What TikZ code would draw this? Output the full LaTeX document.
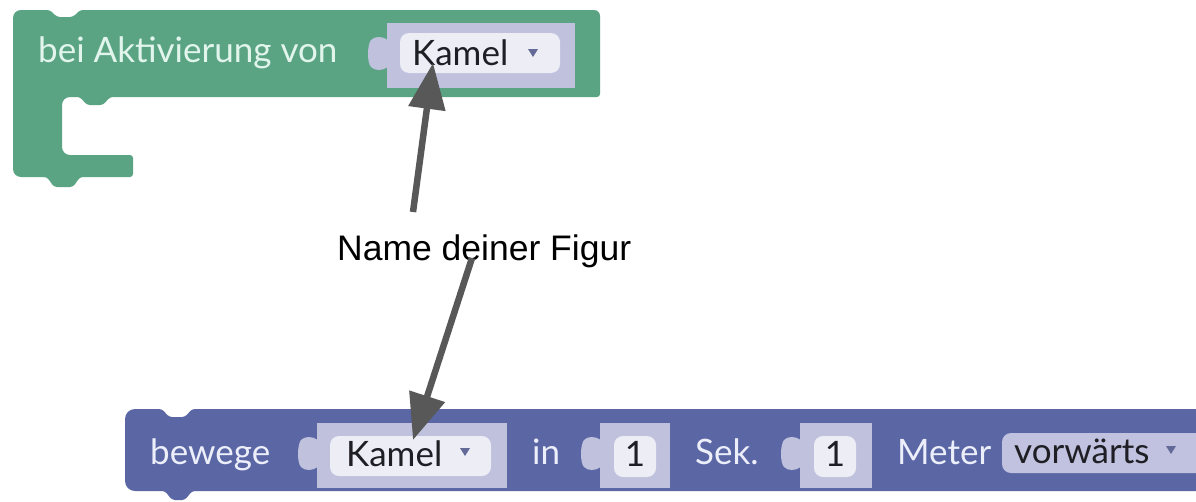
\documentclass[tikz,border=0pt]{standalone}
\usepackage{fontspec}
\setmainfont{Lato}
\newfontfamily\arialf{Liberation Sans}
\usetikzlibrary{arrows.meta}
\definecolor{greenblk}{RGB}{90,164,132}
\definecolor{blueblk}{RGB}{91,103,165}
\definecolor{slotcol}{RGB}{191,193,221}
\definecolor{pillcol}{RGB}{236,237,245}
\definecolor{dropcol}{RGB}{192,194,223}
\definecolor{arrgray}{RGB}{88,88,88}
\definecolor{gtxt}{RGB}{226,245,236}
\definecolor{btxt}{RGB}{236,239,250}
\definecolor{darktxt}{RGB}{30,30,36}
\definecolor{tricol}{RGB}{100,106,152}
\newcommand\slotat[3]{%
  \begin{scope}[shift={(#1,#2)}]
    \fill[slotcol] (0,0) rectangle (#3,65);
    \fill[slotcol] (1,17) .. controls (-5,13) and (-12,13) .. (-16,17)
      .. controls (-20,22) and (-20,40) .. (-16,44)
      .. controls (-12,48) and (-5,48) .. (1,44) -- cycle;
  \end{scope}}
\newcommand\dropat[2]{%
  \fill[tricol] (#1-5,#2-4) -- (#1+5,#2-4) -- (#1,#2+4) -- cycle;}
\tikzset{
  blkfont/.style={font=\fontsize{35}{40}\selectfont},
  blkg/.style={inner sep=0, anchor=base west, blkfont, text=gtxt},
  blkb/.style={inner sep=0, anchor=base west, blkfont, text=btxt},
  pilltxt/.style={inner sep=0, anchor=base west, blkfont, text=darktxt},
  numtxt/.style={inner sep=0, anchor=base, blkfont, text=darktxt},
  arr/.style={draw=arrgray, line width=6.5pt, -{Triangle[length=46pt,width=36pt]}}
}
\begin{document}
\begin{tikzpicture}[x=1pt,y=-1pt]
\useasboundingbox (0,0) rectangle (1196,501);
\clip (0,0) rectangle (1196,501);
\fill[white] (0,0) rectangle (1196,501);
% green event block
\fill[greenblk] (13,100) [rounded corners=8] -- (13,10) [rounded corners=3] -- (50,10) -- (57,17) -- (73,17) -- (80,10) [rounded corners=6] -- (600,10) [rounded corners=3] -- (600,97) -- (110,97) -- (103,105) -- (87,105) -- (80,97) [rounded corners=8] -- (62,97) -- (62,155) [rounded corners=3] -- (133,155) -- (133,177) -- (80,177) -- (73,187) -- (54,187) -- (47,177) [rounded corners=8] -- (13,177) -- cycle;
\slotat{387}{23}{188}
\fill[pillcol, rounded corners=9] (400,33) rectangle (560,73);
\node[blkg] (bei) at (38,62) {bei Aktivierung von};
\node[pilltxt] (kamel1) at (412,65) {Kamel};
\dropat{533}{53}
% blue move block
\fill[blueblk] (125,450) [rounded corners=10] -- (125,409) [rounded corners=3] -- (162,409) -- (169,417) -- (185,417) -- (192,409) -- (1210,409) -- (1210,491) -- (192,491) -- (185,500) -- (172,500) -- (165,491) [rounded corners=10] -- (125,491) -- cycle;
\slotat{317}{423}{190}
\slotat{600}{423}{70}
\slotat{800}{423}{72}
\fill[pillcol, rounded corners=9] (330,436) rectangle (491,476);
\fill[pillcol, rounded corners=9] (614,436) rectangle (656,477);
\fill[pillcol, rounded corners=9] (814,436) rectangle (856,477);
\fill[dropcol, rounded corners=9] (1002,433) rectangle (1215,473);
\node[blkb] (bewege) at (150,464) {bewege};
\node[pilltxt] (kamel2) at (346,466) {Kamel};
\dropat{465}{452}
\node[blkb] (in) at (532,464) {in};
\node[numtxt] (eins1) at (635,466) {1};
\node[blkb] (sek) at (695,464) {Sek.};
\node[numtxt] (eins2) at (835,466) {1};
\node[blkb] (meter) at (897,464) {Meter};
\node[pilltxt] (vorw) at (1014,463) {vorwärts};
\dropat{1171}{450}
% label and arrows
\node[inner sep=0, anchor=base west, font=\arialf\fontsize{35.5}{40}\selectfont, text=black] (lbl) at (337,260) {Name deiner Figur};
\coordinate (a1s) at (413,212);
\coordinate (a1e) at (433,63);
\coordinate (a2s) at (472,258);
\coordinate (a2e) at (413,440);
\draw[arr] (a1s) -- (a1e);
\draw[arr] (a2s) -- (a2e);
\end{tikzpicture}
\end{document}
